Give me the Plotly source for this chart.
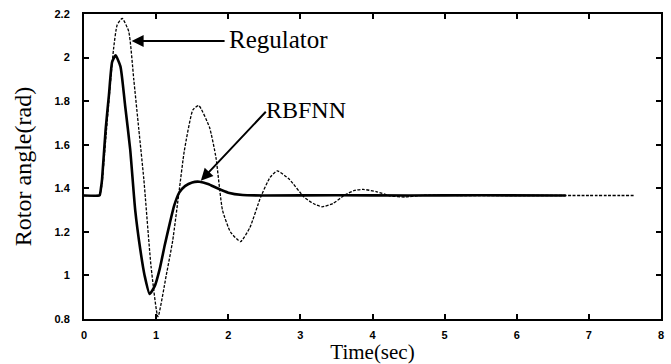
import plotly.graph_objects as go

# RBFNN (solid) response
t_rbfnn = [0, 0.21, 0.22, 0.235, 0.25, 0.30, 0.345, 0.39, 0.437, 0.505, 0.57, 0.64, 0.71, 0.78,
           0.84, 0.91, 0.98, 1.05, 1.12, 1.19, 1.25, 1.32, 1.40, 1.50, 1.60, 1.72, 1.85, 2.0,
           2.2, 2.5, 3.5, 4.5, 5.5, 6.68]
y_rbfnn = [1.367, 1.367, 1.37, 1.40, 1.44, 1.67, 1.825, 1.98, 2.01, 1.96, 1.78, 1.58, 1.30, 1.12,
           1.00, 0.915, 0.95, 1.03, 1.14, 1.24, 1.32, 1.38, 1.41, 1.427, 1.43, 1.42, 1.40, 1.38,
           1.369, 1.367, 1.368, 1.367, 1.368, 1.367]

# Conventional regulator (dashed) response
t_reg = [0, 0.21, 0.22, 0.235, 0.25, 0.30, 0.35, 0.41, 0.46, 0.53, 0.62, 0.69, 0.76, 0.83,
         0.93, 1.025, 1.14, 1.23, 1.32, 1.39, 1.51, 1.59, 1.74, 1.83, 1.92, 2.03,
         2.17, 2.30, 2.45, 2.58, 2.68, 2.85, 3.05, 3.18, 3.30, 3.45, 3.62, 3.75,
         3.87, 4.05, 4.25, 4.45, 4.7, 5.2, 6.0, 7.0, 7.62]
y_reg = [1.367, 1.367, 1.37, 1.39, 1.42, 1.62, 1.82, 2.04, 2.15, 2.18, 2.12, 1.90, 1.67, 1.44,
         1.04, 0.81, 1.00, 1.16, 1.39, 1.57, 1.76, 1.78, 1.68, 1.54, 1.30, 1.20,
         1.155, 1.22, 1.36, 1.45, 1.48, 1.44, 1.36, 1.33, 1.315, 1.33, 1.37, 1.39,
         1.395, 1.385, 1.365, 1.36, 1.368, 1.367, 1.367, 1.367, 1.367]

x_ticks = [0, 1, 2, 3, 4, 5, 6, 7, 8]
x_tick_labels = ["0", "1", "2", "3", "4", "5", "6", "7", "8"]
y_ticks = [0.8, 1.0, 1.2, 1.4, 1.6, 1.8, 2.0, 2.2]
y_tick_labels = ["0.8", "1", "1.2", "1.4", "1.6", "1.8", "2", "2.2"]

fig = go.Figure()
fig.add_trace(go.Scatter(x=t_reg, y=y_reg, mode="lines",
                         line=dict(color="black", width=1.3, dash="3px,1.5px", shape="spline", smoothing=0.5),
                         showlegend=False, name="Regulator"))
fig.add_trace(go.Scatter(x=t_rbfnn, y=y_rbfnn, mode="lines",
                         line=dict(color="black", width=2.6, shape="spline", smoothing=0.5),
                         showlegend=False, name="RBFNN"))

serif = "Liberation Serif, Times New Roman, serif"
tickfont = dict(family="Liberation Sans, Arial, sans-serif", size=11, color="black")

fig.add_annotation(x=0.66, y=2.076, ax=1.97, ay=2.076, xref="x", yref="y", axref="x", ayref="y",
                   showarrow=True, arrowhead=2, arrowsize=1.2, arrowwidth=2, arrowcolor="black", text="")
fig.add_annotation(x=1.98, y=2.083, xref="x", yref="y", text="Regulator", showarrow=False,
                   xanchor="left", yanchor="middle", font=dict(family=serif, size=25, color="black"))
fig.add_annotation(x=1.62, y=1.435, ax=2.54, ay=1.758, xref="x", yref="y", axref="x", ayref="y",
                   showarrow=True, arrowhead=2, arrowsize=1.2, arrowwidth=2, arrowcolor="black", text="")
fig.add_annotation(x=2.50, y=1.76, xref="x", yref="y", text="RBFNN", showarrow=False,
                   xanchor="left", yanchor="middle", font=dict(family=serif, size=24, color="black"))

fig.update_layout(
    width=671, height=364,
    margin=dict(l=84, r=7, t=14, b=45),
    paper_bgcolor="white", plot_bgcolor="white",
    xaxis=dict(range=[0, 8], tickvals=x_ticks, ticktext=["<b>%s</b>" % s for s in x_tick_labels],
               ticks="inside", ticklen=5, tickwidth=1.5, ticklabelstandoff=5,
               tickcolor="black", showgrid=False, zeroline=False, showline=True, linecolor="black",
               linewidth=2, mirror="ticks", tickfont=tickfont,
               title=dict(text="Time(sec)", font=dict(family=serif, size=21, color="black"), standoff=0)),
    yaxis=dict(range=[0.8, 2.2], tickvals=y_ticks, ticktext=["<b>%s</b>" % s for s in y_tick_labels],
               ticks="inside", ticklen=5, ticklabelstandoff=10,
               tickwidth=1.5, tickcolor="black", showgrid=False, zeroline=False, showline=True,
               linecolor="black", linewidth=2, mirror="ticks", tickfont=tickfont,
               title=dict(text="Rotor angle(rad)", font=dict(family=serif, size=24, color="black"), standoff=16)),
)

fig.write_html("out.html")
